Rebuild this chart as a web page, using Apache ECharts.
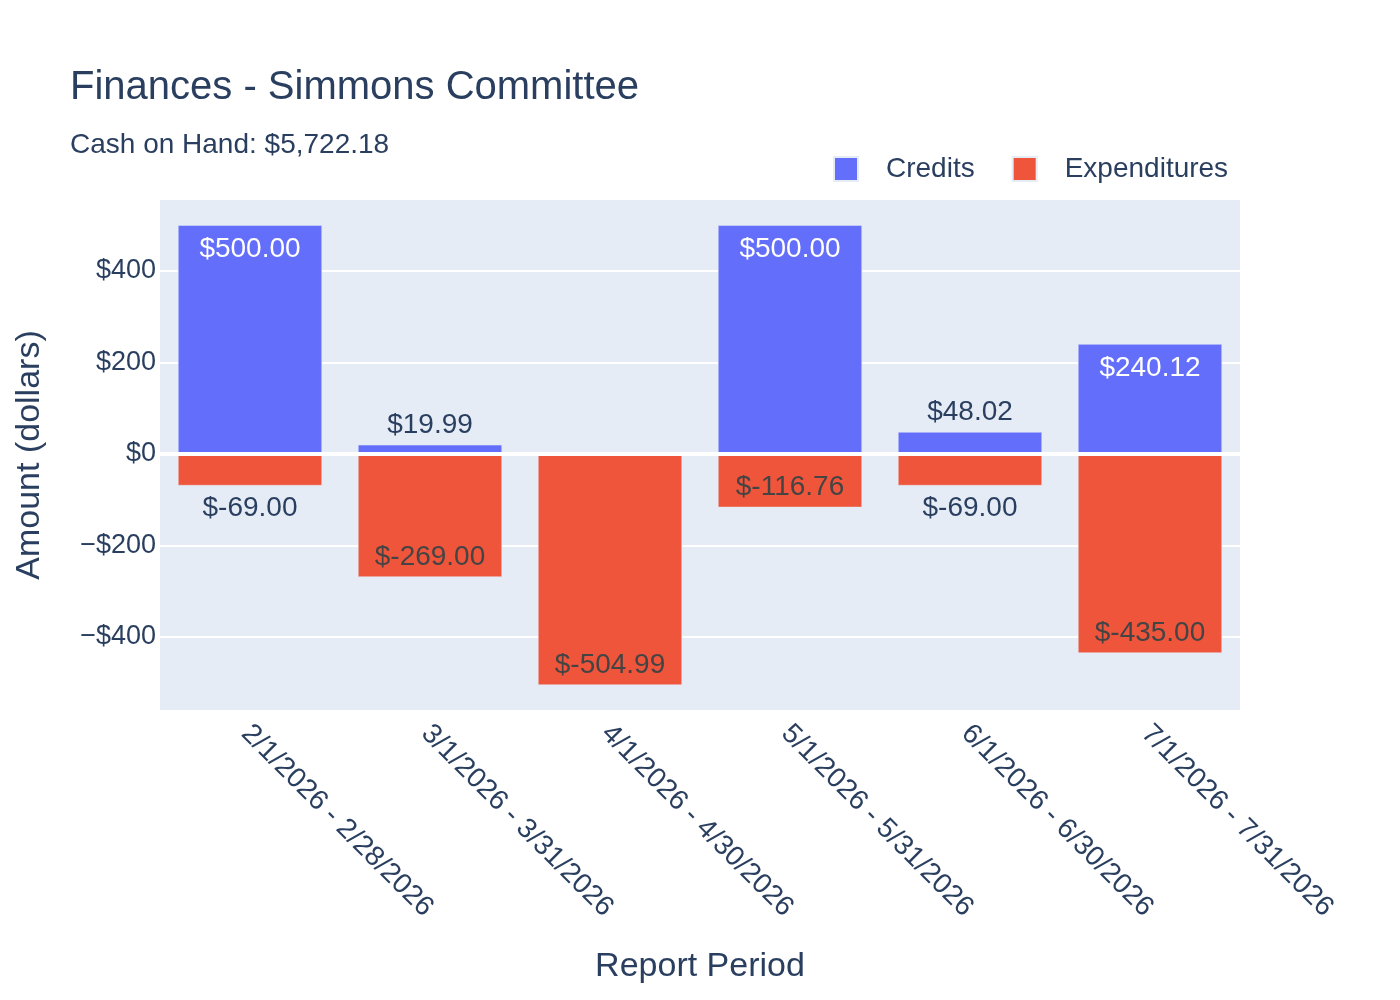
<!DOCTYPE html>
<html>
<head>
<meta charset="utf-8">
<script src="https://cdn.jsdelivr.net/npm/echarts@6/dist/echarts.min.js"></script>
<style>
html,body{margin:0;padding:0;background:#fff;}
#chart{width:1400px;height:1000px;}
</style>
</head>
<body>
<div id="chart"></div>
<script>
var categories = ['2/1/2026 - 2/28/2026', '3/1/2026 - 3/31/2026', '4/1/2026 - 4/30/2026', '5/1/2026 - 5/31/2026', '6/1/2026 - 6/30/2026', '7/1/2026 - 7/31/2026'];
var credits = [500.00, 19.99, null, 500.00, 48.02, 240.12];
var expenditures = [-69.00, -269.00, -504.99, -116.76, -69.00, -435.00];
var yTicks = [-400, -200, 0, 200, 400];
var titleText = 'Finances - Simmons Committee';
var subtitleText = 'Cash on Hand: $5,722.18';

var FONT = '"Liberation Sans", Arial, sans-serif';
var INK = '#2a3f5f';
var Y_MIN = -559.6, Y_MAX = 555;
var GRID_TOP = 200, GRID_BOTTOM = 290;
var pxPerUnit = (1000 - GRID_TOP - GRID_BOTTOM) / (Y_MAX - Y_MIN);
var LABEL_DIST = { top: 6, insideTop: 10, bottom: 9, insideBottom: 6 };

function money(v) { return '$' + v.toFixed(2); }

function buildItems(values, insideColor) {
  return values.map(function (v) {
    if (v === null) return null;
    var inside = Math.abs(v) * pxPerUnit > 40;
    var pos = v >= 0 ? (inside ? 'insideTop' : 'top') : (inside ? 'insideBottom' : 'bottom');
    return {
      value: v,
      label: { position: pos, distance: LABEL_DIST[pos], color: inside ? insideColor : INK }
    };
  });
}

var chart = echarts.init(document.getElementById('chart'));
chart.setOption({
  backgroundColor: '#ffffff',
  animation: false,
  title: [
    { text: titleText, left: 65, top: 63,
      textStyle: { fontFamily: FONT, fontSize: 40, lineHeight: 40, fontWeight: 'normal', color: INK } },
    { text: subtitleText, left: 65, top: 126,
      textStyle: { fontFamily: FONT, fontSize: 28, lineHeight: 28, fontWeight: 'normal', color: INK } }
  ],
  legend: {
    data: ['Credits', 'Expenditures'],
    left: 828, top: 150,
    icon: 'rect', itemWidth: 24, itemHeight: 24, itemGap: 37,
    textStyle: { fontFamily: FONT, fontSize: 28, lineHeight: 28, color: INK, padding: [0, 0, 0, 23] }
  },
  grid: {
    left: 160, right: 160, top: GRID_TOP, bottom: GRID_BOTTOM,
    show: true, backgroundColor: '#E5ECF6', borderWidth: 0, containLabel: false
  },
  xAxis: {
    type: 'category',
    data: categories,
    name: 'Report Period',
    nameLocation: 'middle',
    nameGap: 240,
    nameTextStyle: { fontFamily: FONT, fontSize: 34, lineHeight: 34, color: INK },
    axisLine: { show: false, onZero: false },
    axisTick: { show: false },
    splitLine: { show: false },
    axisLabel: { rotate: -45, interval: 0, margin: 15, verticalAlign: 'top', lineHeight: 12,
      fontFamily: FONT, fontSize: 28, color: INK }
  },
  yAxis: {
    type: 'value',
    min: Y_MIN, max: Y_MAX, splitNumber: 5,
    name: 'Amount (dollars)',
    nameLocation: 'middle',
    nameGap: 113,
    nameTextStyle: { fontFamily: FONT, fontSize: 34, lineHeight: 34, color: INK },
    axisLine: { show: false },
    axisTick: { show: false },
    splitLine: { show: true, showMinLine: false, showMaxLine: false, lineStyle: { color: '#ffffff', width: 2 } },
    axisLabel: {
      margin: 4, fontFamily: FONT, fontSize: 27, color: INK,
      showMinLabel: false, showMaxLabel: false,
      formatter: function (v) {
        if (yTicks.indexOf(Math.round(v)) < 0 || Math.abs(v - Math.round(v)) > 1e-6) return '';
        return v < 0 ? '\u2212$' + Math.abs(v) : '$' + v;
      }
    }
  },
  series: [
    {
      name: '_zero', type: 'line', data: [], z: 1, silent: true,
      markLine: {
        silent: true, symbol: ['none', 'none'], label: { show: false },
        lineStyle: { color: '#ffffff', width: 4, type: 'solid' },
        data: [{ yAxis: 0 }]
      }
    },
    {
      name: 'Credits', type: 'bar', stack: 'total', z: 2,
      barCategoryGap: '20%',
      data: buildItems(credits, '#ffffff'),
      itemStyle: { color: '#636EFA', borderColor: '#E5ECF6', borderWidth: 0.5 },
      label: { show: true, fontFamily: FONT, fontSize: 28, lineHeight: 28,
        formatter: function (p) { return money(p.value); } }
    },
    {
      name: 'Expenditures', type: 'bar', stack: 'total', z: 2,
      barCategoryGap: '20%',
      data: buildItems(expenditures, '#444444'),
      itemStyle: { color: '#EF553B', borderColor: '#E5ECF6', borderWidth: 0.5 },
      label: { show: true, fontFamily: FONT, fontSize: 28, lineHeight: 28,
        formatter: function (p) { return money(p.value); } }
    }
  ]
});
</script>
</body>
</html>
